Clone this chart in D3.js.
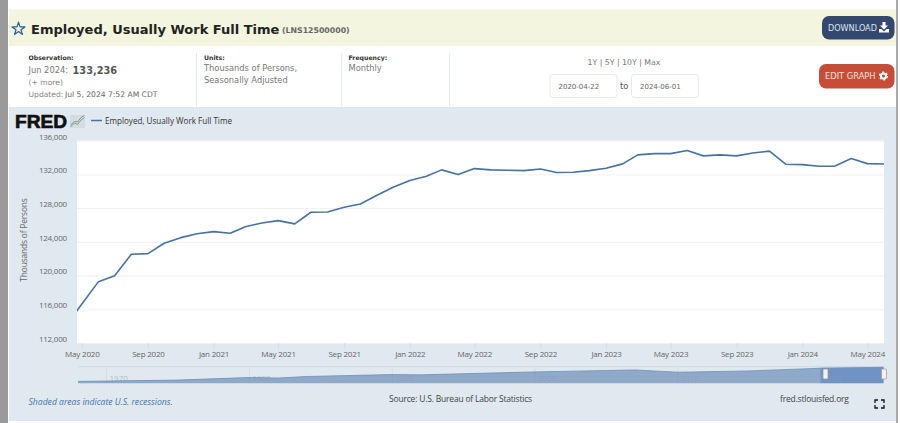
<!DOCTYPE html>
<html>
<head>
<meta charset="utf-8">
<script src="https://cdn.jsdelivr.net/npm/d3@7"></script>
<style>
  html, body { margin: 0; padding: 0; background: #fff; overflow: hidden; }
  svg { display: block; }
  text { font-family: "Open Sans", sans-serif; }
  .info text { font-family: "DejaVu Sans", sans-serif; }
  .axis path { display: none; }
  .axis text { font-size: 8px; fill: #666; letter-spacing: -0.2px; font-family: "Open Sans", sans-serif; }
</style>
</head>
<body>
<div id="chart"></div>
<script>
var months = ['2020-04','2020-05','2020-06','2020-07','2020-08','2020-09','2020-10','2020-11','2020-12',
  '2021-01','2021-02','2021-03','2021-04','2021-05','2021-06','2021-07','2021-08','2021-09','2021-10','2021-11','2021-12',
  '2022-01','2022-02','2022-03','2022-04','2022-05','2022-06','2022-07','2022-08','2022-09','2022-10','2022-11','2022-12',
  '2023-01','2023-02','2023-03','2023-04','2023-05','2023-06','2023-07','2023-08','2023-09','2023-10','2023-11','2023-12',
  '2024-01','2024-02','2024-03','2024-04','2024-05','2024-06'];
var employed = [114000,116630,119280,119990,122530,122600,123830,124500,124970,
  125210,125020,125800,126240,126520,126130,127510,127550,128110,128500,129530,130480,
  131270,131790,132540,131980,132690,132540,132500,132450,132650,132220,132260,132450,
  132740,133250,134320,134470,134470,134830,134200,134320,134200,134550,134760,133210,
  133160,132970,132970,133880,133280,133236];
var yTicks = [112000,116000,120000,124000,128000,132000,136000];
var xTicks = ['2020-05','2020-09','2021-01','2021-05','2021-09','2022-01','2022-05','2022-09','2023-01','2023-05','2023-09','2024-01','2024-05'];
var navYears = [1968,1970,1975,1980,1982,1984,1990,1992,2000,2007,2010,2015,2019.9,2024.4];
var navValues = [61000,63000,68000,81000,78000,86000,96000,94500,109500,119500,108000,114500,128000,133000];
var navLabels = [1970,1980,1990,2000,2010,2020];

var parseMonth = d3.timeParse('%Y-%m');
var formatMonth = d3.timeFormat('%b %Y');

var svg = d3.select('#chart').append('svg')
    .attr('width', 900)
    .attr('height', 423);

function label(parent, x, y, str, size, color, weight, anchor) {
  return parent.append('text')
    .attr('x', x)
    .attr('y', y)
    .attr('font-size', size)
    .attr('fill', color)
    .attr('font-weight', weight || 'normal')
    .attr('text-anchor', anchor || 'start')
    .text(str);
}

// page frame
svg.append('rect').attr('x', 0).attr('y', 0).attr('width', 8).attr('height', 423).attr('fill', '#9a9a9a');
svg.append('rect').attr('x', 896.5).attr('y', 0).attr('width', 1).attr('height', 423).attr('fill', '#555');
svg.append('rect').attr('x', 9).attr('y', 9.5).attr('width', 887).attr('height', 36.5).attr('fill', '#f3f5de');
svg.append('rect').attr('x', 9).attr('y', 107).attr('width', 887).attr('height', 314).attr('fill', '#e1e9f0');

// header
var info = svg.append('g').attr('class', 'info');
info.append('path')
  .attr('d', d3.symbol(d3.symbolStar, 52)())
  .attr('transform', 'translate(18.5,29)')
  .attr('fill', 'none')
  .attr('stroke', '#2f5f9e')
  .attr('stroke-width', 1.2)
  .attr('stroke-linejoin', 'round');
label(info, 31, 33.5, 'Employed, Usually Work Full Time', 13, '#222', 'bold');
label(info, 282, 33, '(LNS12500000)', 7.8, '#666', 'bold');

label(info, 28.5, 60, 'Observation:', 6.2, '#333', 'bold');
label(info, 28.5, 73, 'Jun 2024:', 8.3, '#777');
label(info, 72.5, 73.5, '133,236', 9.8, '#555', 'bold');
label(info, 28.5, 85, '(+ more)', 7.6, '#888');
label(info, 28.5, 97, 'Updated:', 7.6, '#888');
label(info, 65, 97, 'Jul 5, 2024 7:52 AM CDT', 7.6, '#666');

label(info, 204, 60, 'Units:', 6.2, '#333', 'bold');
label(info, 204, 71, 'Thousands of Persons,', 8.3, '#777');
label(info, 204, 83, 'Seasonally Adjusted', 8.3, '#777');
label(info, 348.5, 60, 'Frequency:', 6.2, '#333', 'bold');
label(info, 348.5, 71, 'Monthly', 8.3, '#777');

[196.5, 341.5, 449.5].forEach(function (x) {
  info.append('line').attr('x1', x).attr('x2', x).attr('y1', 53).attr('y2', 107).attr('stroke', '#e4ebf1');
});

label(info, 624, 65, '1Y | 5Y | 10Y | Max', 7.8, '#777', 'normal', 'middle');
[[550, '2020-04-22'], [631.5, '2024-06-01']].forEach(function (d) {
  info.append('rect').attr('x', d[0]).attr('y', 74.5).attr('width', 67).attr('height', 23).attr('rx', 3)
    .attr('fill', '#fff').attr('stroke', '#e6eaee');
  label(info, d[0] + 8.5, 89, d[1], 7, '#666');
});
label(info, 620, 89, 'to', 8.5, '#555');

// buttons
info.append('rect').attr('x', 822).attr('y', 16).attr('width', 72.5).attr('height', 23.5).attr('rx', 7).attr('fill', '#34476f');
label(info, 828, 31, 'DOWNLOAD', 8.1, '#dfe5ee');
info.append('path')
  .attr('d', 'M882.5 22h3v3.5h2.5l-4 4-4-4h2.5zM879 29h2.5l2.5 2.5 2.5-2.5h2.5v3.5H879z')
  .attr('fill', '#fff');
info.append('rect').attr('x', 819).attr('y', 64).attr('width', 75.5).attr('height', 24.5).attr('rx', 7).attr('fill', '#c64d38');
label(info, 825, 79, 'EDIT GRAPH', 8.3, '#f7e3de');
info.append('circle').attr('cx', 883.5).attr('cy', 76).attr('r', 2.6).attr('fill', 'none').attr('stroke', '#fff').attr('stroke-width', 2);
info.append('circle').attr('cx', 883.5).attr('cy', 76).attr('r', 3.9).attr('fill', 'none').attr('stroke', '#fff')
  .attr('stroke-width', 1.4).attr('stroke-dasharray', '2.05 2.05');

// legend row
label(svg, 15, 128, 'FRED', 19, '#111', 'bold')
  .style('font-family', '"Liberation Sans", sans-serif')
  .attr('stroke', '#111')
  .attr('stroke-width', 0.7)
  .attr('textLength', 52)
  .attr('lengthAdjust', 'spacingAndGlyphs');
svg.append('rect').attr('x', 70).attr('y', 115).attr('width', 15).attr('height', 13).attr('fill', '#d4dce2');
svg.append('path').attr('d', 'M70.5 127l4-4 3 1.5 4-5 3-2').attr('fill', 'none').attr('stroke', '#7fa86f').attr('stroke-width', 1);
svg.append('path').attr('d', 'M70.5 125l4-3.5 3 .5 4-5 3-1.5').attr('fill', 'none').attr('stroke', '#6a7f9a').attr('stroke-width', 0.8);
svg.append('line').attr('x1', 91).attr('x2', 102).attr('y1', 120.5).attr('y2', 120.5).attr('stroke', '#4572a7').attr('stroke-width', 1.5);
label(svg, 105, 124, 'Employed, Usually Work Full Time', 8.1, '#333');

// main plot
var margin = {top: 140.7, right: 16, bottom: 80, left: 77};
var plotWidth = 900 - margin.left - margin.right;
var plotHeight = 423 - margin.top - margin.bottom;

var xScale = d3.scaleTime()
    .domain([new Date(2020, 3, 22), new Date(2024, 5, 1)])
    .range([0, plotWidth]);
var yScale = d3.scaleLinear()
    .domain([112000, 136000])
    .range([plotHeight, 0]);

var plot = svg.append('g').attr('transform', 'translate(' + margin.left + ',' + margin.top + ')');
plot.append('rect').attr('width', plotWidth).attr('height', plotHeight).attr('fill', '#fff');
var defs = svg.append('defs');
defs.append('clipPath').attr('id', 'plot-clip')
  .append('rect').attr('width', plotWidth).attr('height', plotHeight);

var yAxis = d3.axisLeft(yScale)
    .tickValues(yTicks)
    .tickSize(-plotWidth)
    .tickPadding(10)
    .tickFormat(d3.format(','));
var yAxis_g = plot.append('g').attr('class', 'axis').call(yAxis);
yAxis_g.selectAll('line').attr('stroke', '#f1f1f1').attr('stroke-width', 1);
yAxis_g.selectAll('text').attr('dy', '-0.2em');

var xAxis = d3.axisBottom(xScale)
    .tickValues(xTicks.map(parseMonth))
    .tickSize(6)
    .tickPadding(2)
    .tickFormat(formatMonth);
var xAxis_g = plot.append('g').attr('class', 'axis')
    .attr('transform', 'translate(0,' + plotHeight + ')')
    .call(xAxis);
xAxis_g.selectAll('line').attr('stroke', '#d3dde8');

var line = d3.line()
    .x(function (d, i) { return xScale(parseMonth(months[i])); })
    .y(function (d) { return yScale(d); });
plot.append('path')
  .attr('clip-path', 'url(#plot-clip)')
  .attr('d', line(employed))
  .attr('fill', 'none')
  .attr('stroke', '#4572a7')
  .attr('stroke-width', 1.6)
  .attr('stroke-linejoin', 'round');

label(svg, 0, 0, 'Thousands of Persons', 8.4, '#666', 'normal', 'middle')
  .attr('x', null).attr('y', null)
  .attr('letter-spacing', '-0.15')
  .attr('transform', 'translate(27,240) rotate(-90)');

// navigator
var navTop = 366.7, navBottom = 383.3;
var navX = d3.scaleLinear().domain([1968, 2024.44]).range([78, 884]);
var navY = d3.scaleLinear().domain([133000, 53000]).range([367.3, 383]);

svg.append('line').attr('x1', 78).attr('x2', 884).attr('y1', navTop).attr('y2', navTop).attr('stroke', '#d0d8e0');
svg.append('rect').attr('x', navX(2020)).attr('y', navTop).attr('width', 884 - navX(2020)).attr('height', navBottom - navTop)
  .attr('fill', '#c8d3e2');
navLabels.forEach(function (y) {
  svg.append('line').attr('x1', navX(y)).attr('x2', navX(y)).attr('y1', navTop).attr('y2', navBottom).attr('stroke', '#d6dee6');
});

var navArea = d3.area()
    .x(function (d, i) { return navX(navYears[i]); })
    .y0(navBottom)
    .y1(function (d) { return navY(d); });
svg.append('path').attr('d', navArea(navValues)).attr('fill', '#4572a7').attr('fill-opacity', 0.53);
defs.append('clipPath').attr('id', 'nav-clip')
  .append('rect').attr('x', navX(2020)).attr('y', navTop).attr('width', 884 - navX(2020)).attr('height', navBottom - navTop);
svg.append('path').attr('d', navArea(navValues))
  .attr('clip-path', 'url(#nav-clip)')
  .attr('fill', '#4f7fc8').attr('fill-opacity', 0.35);
svg.append('path').attr('d', d3.line()
    .x(function (d, i) { return navX(navYears[i]); })
    .y(function (d) { return navY(d); })(navValues))
  .attr('fill', 'none').attr('stroke', '#6d8fba').attr('stroke-width', 0.8);

navLabels.forEach(function (y) {
  label(svg, navX(y) + 3, 381, y, 8, '#8d9aab').attr('fill-opacity', 0.6);
});

[825.5, 884].forEach(function (x) {
  svg.append('rect').attr('x', x - 2.5).attr('y', 369).attr('width', 5).attr('height', 10).attr('rx', 1)
    .attr('fill', '#f2f2f2').attr('stroke', '#999').attr('stroke-width', 0.7);
});

// footer
label(svg, 28.5, 405, 'Shaded areas indicate U.S. recessions.', 8.6, '#4572a7').attr('font-style', 'italic');
label(svg, 460.5, 402, 'Source: U.S. Bureau of Labor Statistics', 8.5, '#444', 'normal', 'middle').attr('letter-spacing', '-0.2');
label(svg, 780, 402, 'fred.stlouisfed.org', 8.5, '#444').attr('letter-spacing', '-0.2');
svg.append('path')
  .attr('d', 'M875 403v-3h3M881 400h3v3M884 405v3h-3M878 408h-3v-3')
  .attr('fill', 'none').attr('stroke', '#111').attr('stroke-width', 1.3);
</script>
</body>
</html>
